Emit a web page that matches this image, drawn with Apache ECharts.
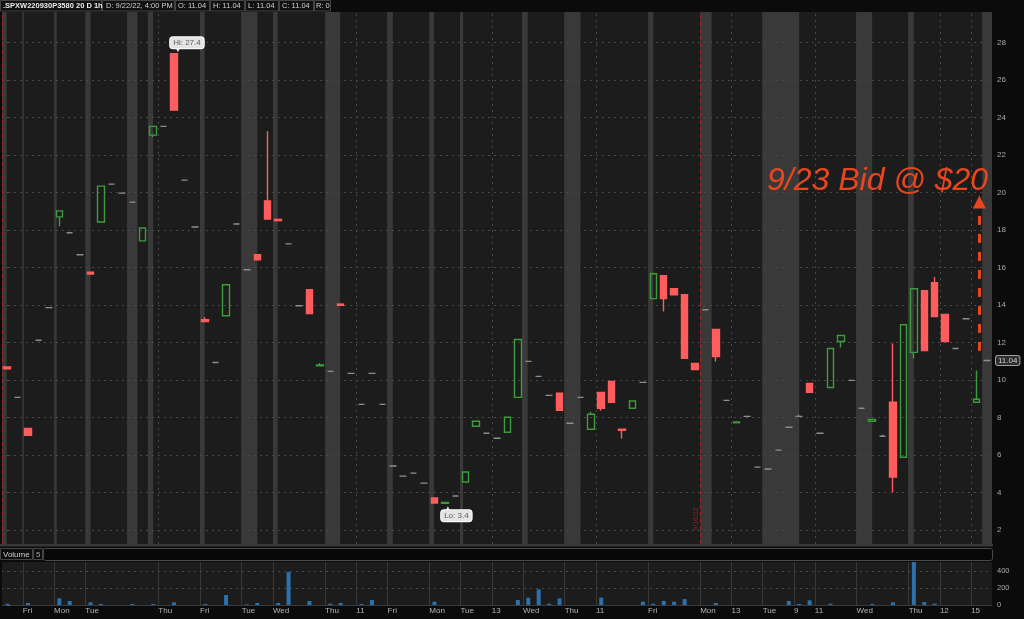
<!DOCTYPE html>
<html><head><meta charset="utf-8">
<script src="https://cdn.jsdelivr.net/npm/echarts@6/dist/echarts.min.js"></script>
<style>html,body{margin:0;padding:0;background:#0b0b0b;}#c{width:1024px;height:619px;}</style>
</head><body><div id="c"></div>
<script>
// ---- data (hourly bars, index 0..94) ----
const opens = [10.70, 9.07, 7.42, 12.12, 13.86, 18.70, 17.85, 16.68, 15.75, 18.43,
 20.45, 19.97, 19.49, 17.42, 23.06, 23.53, 27.40, 20.66, 18.16, 13.22,
 10.93, 13.43, 18.32, 15.88, 16.68, 19.55, 18.57, 17.26, 13.96, 14.82,
 10.76, 10.46, 14.05, 10.35, 8.70, 10.35, 8.70, 5.41, 4.87, 5.03,
 4.50, 3.70, 3.42, 3.81, 4.56, 7.53, 7.16, 6.89, 7.21, 9.07,
 10.99, 10.19, 9.18, 9.29, 7.69, 9.07, 7.37, 9.34, 9.92, 7.37,
 8.49, 9.87, 14.34, 15.56, 14.87, 14.55, 10.88, 13.75, 12.69, 8.91,
 7.72, 8.06, 5.35, 5.25, 6.26, 7.48, 8.06, 9.82, 7.16, 9.60,
 12.05, 9.98, 8.49, 7.80, 7.00, 8.81, 5.88, 11.47, 14.76, 15.19,
 13.49, 11.68, 13.27, 8.81, 11.04];
const closes = [10.60, 9.07, 7.05, 12.12, 13.86, 19.02, 17.85, 16.68, 15.65, 20.34,
 20.45, 19.97, 19.49, 18.11, 23.53, 23.53, 24.40, 20.66, 18.16, 13.12,
 10.93, 15.08, 18.32, 15.88, 16.41, 18.59, 18.50, 17.26, 13.96, 13.54,
 10.80, 10.46, 13.98, 10.35, 8.70, 10.35, 8.70, 5.41, 4.87, 5.03,
 4.50, 3.44, 3.46, 3.81, 5.09, 7.80, 7.16, 6.89, 8.01, 12.16,
 10.99, 10.19, 9.18, 8.38, 7.69, 9.07, 8.17, 8.49, 8.81, 7.32,
 8.88, 9.87, 15.67, 14.34, 14.55, 11.15, 10.56, 13.75, 11.25, 8.91,
 7.76, 8.06, 5.35, 5.25, 6.26, 7.48, 8.06, 9.34, 7.16, 11.68,
 12.37, 9.98, 8.49, 7.90, 7.00, 4.82, 12.95, 14.87, 11.57, 13.38,
 12.05, 11.68, 13.27, 8.97, 11.04];
const lows = [10.60, 9.07, 7.05, 12.12, 13.86, 18.20, 17.85, 16.68, 15.65, 18.43,
 20.45, 19.97, 19.49, 17.42, 22.95, 23.53, 24.40, 20.66, 18.16, 13.12,
 10.93, 13.43, 18.32, 15.88, 16.41, 18.59, 18.50, 17.26, 13.96, 13.54,
 10.76, 10.46, 13.98, 10.35, 8.70, 10.35, 8.70, 5.41, 4.87, 5.03,
 4.50, 3.44, 3.40, 3.81, 4.56, 7.53, 7.16, 6.89, 7.21, 9.07,
 10.99, 10.19, 9.18, 8.38, 7.69, 9.07, 7.37, 8.36, 8.81, 6.87,
 8.49, 9.87, 14.34, 13.65, 14.55, 11.15, 10.56, 13.75, 10.99, 8.91,
 7.72, 8.06, 5.35, 5.25, 6.26, 7.48, 8.06, 9.34, 7.16, 9.60,
 11.73, 9.98, 8.49, 7.80, 7.00, 4.00, 5.88, 11.15, 11.57, 13.38,
 12.05, 11.68, 13.27, 8.81, 11.04];
const highs = [10.70, 9.07, 7.42, 12.12, 13.86, 19.02, 17.85, 16.68, 15.75, 20.34,
 20.45, 19.97, 19.49, 18.11, 23.53, 23.53, 27.40, 20.66, 18.16, 13.35,
 10.93, 15.08, 18.32, 15.88, 16.68, 23.27, 18.57, 17.26, 13.96, 14.82,
 10.90, 10.46, 14.05, 10.35, 8.70, 10.35, 8.70, 5.41, 4.87, 5.03,
 4.50, 3.70, 3.46, 3.81, 5.09, 7.80, 7.16, 6.89, 8.01, 12.16,
 10.99, 10.19, 9.18, 9.29, 7.69, 9.07, 8.30, 9.34, 9.92, 7.37,
 8.88, 9.87, 15.67, 15.56, 14.87, 14.55, 10.88, 13.75, 12.69, 8.91,
 7.76, 8.06, 5.35, 5.25, 6.26, 7.48, 8.15, 9.82, 7.16, 11.68,
 12.37, 9.98, 8.49, 7.90, 7.08, 11.95, 12.95, 14.87, 14.76, 15.50,
 13.49, 11.68, 13.27, 10.50, 11.04];
const volumes = [15, 0, 24, 0, 0, 79, 47, 0, 31, 12,
 0, 0, 12, 0, 12, 0, 31, 0, 0, 12,
 0, 118, 0, 8, 24, 0, 24, 390, 0, 47,
 0, 15, 24, 0, 12, 59, 0, 0, 0, 0,
 0, 39, 0, 0, 0, 0, 0, 0, 0, 59,
 86, 184, 15, 78, 0, 0, 0, 86, 0, 0,
 0, 39, 15, 47, 39, 70, 0, 0, 24, 0,
 0, 0, 0, 0, 0, 47, 12, 55, 0, 15,
 0, 0, 0, 12, 0, 31, 0, 506, 35, 15,
 0, 0, 0, 0, 0];
// time-axis ticks (between bars) and their labels
const xTickPos = [1.5, 4.5, 7.5, 14.5, 18.5, 22.5, 25.5, 30.5, 33.5, 36.5, 40.5, 43.5, 46.5,
 49.5, 53.5, 56.5, 61.5, 66.5, 69.5, 72.5, 75.5, 77.5, 81.5, 86.5, 89.5, 92.5];
const xTickText = ['Fri', 'Mon', 'Tue', 'Thu', 'Fri', 'Tue', 'Wed', 'Thu', '11', 'Fri', 'Mon', 'Tue', '13',
 'Wed', 'Thu', '11', 'Fri', 'Mon', '13', 'Tue', '9', '11', 'Wed', 'Thu', '12', '15'];
const hourGridPos = [14.5, 33.5, 46.5, 56.5, 69.5, 77.5, 89.5, 92.5];
// session-break bands (in bar-index units)
const bandStart = [-0.5, 1.45, 4.5, 7.5, 11.5, 13.5, 18.5, 22.45, 25.5, 30.5, 36.45, 40.5, 43.45,
 49.4, 53.45, 61.5, 66.5, 72.45, 81.45, 86.45, 93.55];
const bandEnd = [-0.05, 1.6, 4.75, 8.0, 12.5, 14.0, 18.95, 24.0, 25.95, 31.95, 37.0, 40.95, 43.75,
 49.95, 55.0, 62.0, 67.6, 76.0, 83.0, 87.0, 94.5];
const priceTicks = [2, 4, 6, 8, 10, 12, 14, 16, 18, 20, 22, 24, 26, 28];
const volTicks = [200, 400];
const expiryLines = [-0.45, 66.5];
const hiIndex = 16, loIndex = 42;
const arrowX = 93.29, arrowFrom = 11.55, arrowTo = 19.5;

const FONT = '"Liberation Sans", Arial, sans-serif';
const N = opens.length;
const cats = opens.map((_, i) => String(i));
const GRAY = '#8e8e8e', UP = '#3c9c3c', DOWN = '#ff5d5d';
const candleData = opens.map((o, i) => {
  const c = closes[i];
  let fill, stroke;
  if (o === c) { fill = GRAY; stroke = GRAY; }
  else if (c > o) { fill = 'rgba(0,0,0,0)'; stroke = UP; }
  else { fill = DOWN; stroke = DOWN; }
  return { value: [o, c, lows[i], highs[i]],
    itemStyle: { color: fill, color0: fill, borderColor: stroke, borderColor0: stroke, borderColorDoji: stroke } };
});
const labelBox = { show: true, fontSize: 8, color: '#5e5e5e', backgroundColor: '#e4e4e4', borderColor: '#ffffff', borderWidth: 1,
  borderRadius: 3, padding: [2, 3, 1, 3], fontFamily: FONT };

const chart = echarts.init(document.getElementById('c'));
const option = {
  backgroundColor: '#0b0b0b',
  animation: false,
  textStyle: { fontFamily: FONT },
  grid: [
    { left: 2, right: 32, top: 12, height: 532, show: true, backgroundColor: '#1c1c1c', borderWidth: 0 },
    { left: 2, right: 32, top: 562, height: 43, show: true, backgroundColor: '#1c1c1c', borderWidth: 0 }
  ],
  xAxis: [
    { type: 'category', gridIndex: 0, data: cats, boundaryGap: true, show: false },
    { type: 'value', gridIndex: 0, min: -0.5, max: N - 0.5, show: false },
    { type: 'category', gridIndex: 1, data: cats, boundaryGap: true, show: false },
    { type: 'value', gridIndex: 1, min: -0.5, max: N - 0.5, position: 'bottom',
      axisLine: { show: true, lineStyle: { color: '#3a3a3a' } },
      axisTick: { show: false }, splitLine: { show: false },
      axisLabel: { customValues: xTickPos, formatter: v => { const k = xTickPos.indexOf(v); return k >= 0 ? xTickText[k] : ''; },
        color: '#b4b4b4', fontSize: 8, align: 'left', margin: 2, fontFamily: FONT } }
  ],
  yAxis: [
    { type: 'value', gridIndex: 0, position: 'right', min: 1.25, max: 29.63,
      axisLine: { show: false }, splitLine: { show: false },
      axisTick: { show: true, customValues: priceTicks, length: 3, lineStyle: { color: '#6a6a6a' } },
      axisLabel: { customValues: priceTicks, color: '#a8a8a8', fontSize: 8, margin: 5, fontFamily: FONT } },
    { type: 'value', gridIndex: 1, position: 'right', min: 0, max: 506, interval: 200,
      axisLine: { show: false }, splitLine: { show: false },
      axisTick: { show: true, length: 3, lineStyle: { color: '#6a6a6a' } },
      axisLabel: { color: '#a8a8a8', fontSize: 7.5, margin: 5, showMaxLabel: false, fontFamily: FONT } }
  ],
  series: [
    { type: 'line', name: 'bg', xAxisIndex: 1, yAxisIndex: 0, data: [], z: 1, silent: true,
      markArea: { silent: true, itemStyle: { color: '#393939' },
        data: bandStart.map((s, i) => [{ xAxis: s }, { xAxis: bandEnd[i] }]) },
      markLine: { silent: true, symbol: 'none', label: { show: false },
        data: [
          ...priceTicks.map(t => ({ yAxis: t, lineStyle: { color: '#474747', type: [2, 4], width: 1 } })),
          ...hourGridPos.map(t => ({ xAxis: t, lineStyle: { color: '#474747', type: [2, 4], width: 1 } })),
          ...expiryLines.map(t => ({ xAxis: t, lineStyle: { color: '#a02424', type: [4, 3], width: 1 } }))
        ] } },
    { type: 'candlestick', name: 'price', xAxisIndex: 0, yAxisIndex: 0, z: 5, barWidth: 7,
      data: candleData,
      itemStyle: { borderWidth: 1.4 },
      markPoint: { symbol: 'circle', symbolSize: 0, silent: true, label: labelBox,
        data: [
          { coord: [String(hiIndex), highs[hiIndex]], label: { formatter: 'Hi: ' + highs[hiIndex].toFixed(1), offset: [13, -11] } },
          { coord: [String(loIndex), lows[loIndex]], label: { formatter: 'Lo: ' + lows[loIndex].toFixed(1), offset: [11.5, 12] } },
          { coord: [String(hiIndex), highs[hiIndex]], symbol: 'triangle', symbolSize: [5, 5], symbolRotate: 180,
            symbolOffset: [4, -4], itemStyle: { color: '#e4e4e4' }, label: { show: false } },
          { coord: [String(loIndex), lows[loIndex]], symbol: 'triangle', symbolSize: [5, 5],
            symbolOffset: [3, 5], itemStyle: { color: '#e4e4e4' }, label: { show: false } }
        ] },
      markLine: { silent: true, symbol: 'none',
        data: [{ yAxis: closes[N - 1], lineStyle: { color: 'rgba(0,0,0,0)' },
          label: { show: true, position: 'end', distance: 4, formatter: closes[N - 1].toFixed(2), fontSize: 8, color: '#cfcfcf',
            backgroundColor: '#2e2e2e', borderColor: '#a0a0a0', borderWidth: 1, borderRadius: 2, padding: [1, 2, 0, 2], fontFamily: FONT } }] } },
    { type: 'line', name: 'ann', xAxisIndex: 1, yAxisIndex: 0, data: [], z: 6, silent: true,
      markLine: { silent: true, label: { show: false }, symbol: ['none', 'triangle'], symbolSize: 13,
        data: [[{ coord: [arrowX, arrowFrom], symbol: 'none' }, { coord: [arrowX, arrowTo], symbol: 'triangle', symbolSize: 13 }]],
        lineStyle: { color: '#e9461f', width: 3, type: [9, 9] }, itemStyle: { color: '#e9461f' } } },
    { type: 'bar', name: 'volume', xAxisIndex: 2, yAxisIndex: 1, data: volumes, barWidth: 4, z: 5,
      itemStyle: { color: '#2b72ad' } },
    { type: 'line', name: 'vgrid', xAxisIndex: 3, yAxisIndex: 1, data: [], z: 1, silent: true,
      markLine: { silent: true, symbol: 'none', label: { show: false },
        data: [
          ...xTickPos.map(t => ({ xAxis: t, lineStyle: { color: '#383838', type: 'solid', width: 1 } })),
          ...volTicks.map(t => ({ yAxis: t, lineStyle: { color: '#474747', type: [2, 4], width: 1 } }))
        ] } }
  ],
  graphic: [
    // header
    { type: 'rect', z: 50, shape: { x: 0.5, y: 0.5, width: 101, height: 10.5 }, style: { fill: '#111', stroke: '#444', lineWidth: 1 } },
    { type: 'rect', z: 50, shape: { x: 102.5, y: 0.5, width: 72, height: 10.5 }, style: { fill: '#111', stroke: '#444', lineWidth: 1 } },
    { type: 'rect', z: 50, shape: { x: 175.5, y: 0.5, width: 34, height: 10.5 }, style: { fill: '#111', stroke: '#444', lineWidth: 1 } },
    { type: 'rect', z: 50, shape: { x: 210.5, y: 0.5, width: 34, height: 10.5 }, style: { fill: '#111', stroke: '#444', lineWidth: 1 } },
    { type: 'rect', z: 50, shape: { x: 245.5, y: 0.5, width: 33, height: 10.5 }, style: { fill: '#111', stroke: '#444', lineWidth: 1 } },
    { type: 'rect', z: 50, shape: { x: 279.5, y: 0.5, width: 34, height: 10.5 }, style: { fill: '#111', stroke: '#444', lineWidth: 1 } },
    { type: 'rect', z: 50, shape: { x: 314.5, y: 0.5, width: 16, height: 10.5 }, style: { fill: '#111', stroke: '#444', lineWidth: 1 } },
    { type: 'text', z: 51, x: 3, y: 6, style: { text: '.SPXW220930P3580 20 D 1h', fill: '#ececec', font: 'bold 7.5px ' + FONT, verticalAlign: 'middle' } },
    { type: 'text', z: 51, x: 106, y: 6, style: { text: 'D: 9/22/22, 4:00 PM', fill: '#cfcfcf', font: '7.5px ' + FONT, verticalAlign: 'middle' } },
    { type: 'text', z: 51, x: 178, y: 6, style: { text: 'O: 11.04', fill: '#cfcfcf', font: '7.5px ' + FONT, verticalAlign: 'middle' } },
    { type: 'text', z: 51, x: 213, y: 6, style: { text: 'H: 11.04', fill: '#cfcfcf', font: '7.5px ' + FONT, verticalAlign: 'middle' } },
    { type: 'text', z: 51, x: 248, y: 6, style: { text: 'L: 11.04', fill: '#cfcfcf', font: '7.5px ' + FONT, verticalAlign: 'middle' } },
    { type: 'text', z: 51, x: 282, y: 6, style: { text: 'C: 11.04', fill: '#cfcfcf', font: '7.5px ' + FONT, verticalAlign: 'middle' } },
    { type: 'text', z: 51, x: 316, y: 6, style: { text: 'R: 0', fill: '#cfcfcf', font: '7.5px ' + FONT, verticalAlign: 'middle' } },
    // bottom strip of price pane
    { type: 'rect', z: 50, shape: { x: 0, y: 544, width: 993, height: 2.5 }, style: { fill: '#383838' } },
    // volume header
    { type: 'rect', z: 50, shape: { x: 0.5, y: 548.5, width: 32, height: 11 }, style: { fill: '#0d0d0d', stroke: '#444', lineWidth: 1 } },
    { type: 'rect', z: 50, shape: { x: 33.5, y: 548.5, width: 9, height: 11 }, style: { fill: '#0d0d0d', stroke: '#444', lineWidth: 1 } },
    { type: 'rect', z: 50, shape: { x: 43.5, y: 548.5, width: 949, height: 12, r: 2 }, style: { fill: '#080808', stroke: '#4a4a4a', lineWidth: 1 } },
    { type: 'text', z: 51, x: 3, y: 554.5, style: { text: 'Volume', fill: '#d0d0d0', font: '8px ' + FONT, verticalAlign: 'middle' } },
    { type: 'text', z: 51, x: 36, y: 554.5, style: { text: '5', fill: '#a0a0a0', font: '8px ' + FONT, verticalAlign: 'middle' } },
    // expiry marker label
    { type: 'text', z: 51, x: 696.5, y: 519, rotation: Math.PI / 2, style: { text: '9/16/22', fill: '#8f2222', font: '7px ' + FONT, align: 'center', verticalAlign: 'middle' } },
    // annotation
    { type: 'text', z: 60, x: 767, y: 181, style: { text: '9/23 Bid @ $20', fill: '#e9461f', font: 'italic 32px ' + FONT, verticalAlign: 'middle' } }
  ]
};
chart.setOption(option);
</script></body></html>
